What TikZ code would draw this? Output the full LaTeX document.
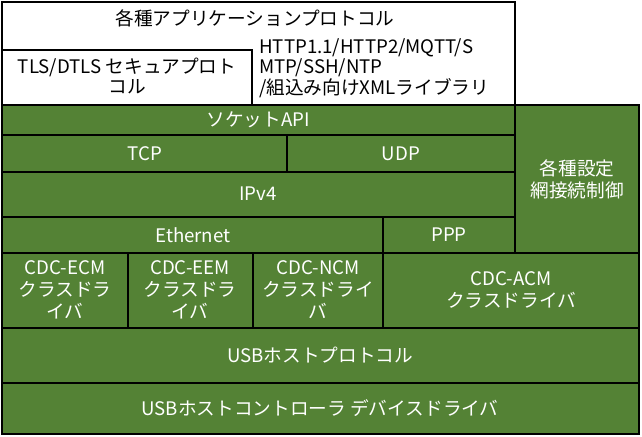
\documentclass[tikz,border=0pt]{standalone}
\usepackage{fontspec}
\setmainfont{Noto Sans CJK JP}
\usepackage{xcolor}
\usepackage{tikz}
\definecolor{stackgreen}{RGB}{84,130,53}

\begin{document}
\begin{tikzpicture}[x=0.75pt,y=-0.75pt,
    layer/.style={draw=black,line width=1.5pt,fill=stackgreen},
    applayer/.style={draw=black,line width=1.5pt,fill=white},
    lbl/.style={text=white,align=center,inner sep=0pt,font=\fontsize{14}{16.5}\selectfont},
    applbl/.style={text=black,align=center,inner sep=0pt,font=\fontsize{14}{15.5}\selectfont}]
    \useasboundingbox (0,0) rectangle (642,436);

    % Application layer
    \draw[applayer] (2,2) rectangle (515,105);
    \draw[applayer] (2,50) rectangle (252,105);
    \node[applbl] (app) at (255,18) {各種アプリケーションプロトコル};
    \node[applbl] (tls) at (127,76) {TLS/DTLS セキュアプロト\\コル};
    \node[applbl,align=left,anchor=west] (proto) at (259,68) {HTTP1.1/HTTP2/MQTT/S\\MTP/SSH/NTP\\/組込み向けXMLライブラリ};

    % Network stack
    \draw[layer] (2,105) rectangle (515,135);
    \node[lbl] (sock) at (258,120) {ソケットAPI};
    \draw[layer] (515,105) rectangle (639,253);
    \node[lbl] (cfg) at (577,179) {各種設定\\網接続制御};
    \draw[layer] (2,135) rectangle (287,172);
    \node[lbl] (tcp) at (145,154) {TCP};
    \draw[layer] (287,135) rectangle (515,172);
    \node[lbl] (udp) at (401,154) {UDP};
    \draw[layer] (2,172) rectangle (515,217);
    \node[lbl] (ipv4) at (258,194) {IPv4};
    \draw[layer] (2,217) rectangle (383,253);
    \node[lbl] (eth) at (193,235) {Ethernet};
    \draw[layer] (383,217) rectangle (515,253);
    \node[lbl] (ppp) at (449,235) {PPP};

    % Class drivers
    \draw[layer] (2,253) rectangle (128,328);
    \node[lbl] (ecm) at (65,290) {CDC-ECM\\クラスドラ\\イバ};
    \draw[layer] (128,253) rectangle (253,328);
    \node[lbl] (eem) at (190,290) {CDC-EEM\\クラスドラ\\イバ};
    \draw[layer] (253,253) rectangle (383,328);
    \node[lbl] (ncm) at (318,290) {CDC-NCM\\クラスドライ\\バ};
    \draw[layer] (383,253) rectangle (639,328);
    \node[lbl] (acm) at (511,290) {CDC-ACM\\クラスドライバ};

    % USB host
    \draw[layer] (2,328) rectangle (639,383);
    \node[lbl] (usbhost) at (320,355) {USBホストプロトコル};
    \draw[layer] (2,383) rectangle (639,434);
    \node[lbl] (hcd) at (320,408) {USBホストコントローラ デバイスドライバ};
\end{tikzpicture}
\end{document}
